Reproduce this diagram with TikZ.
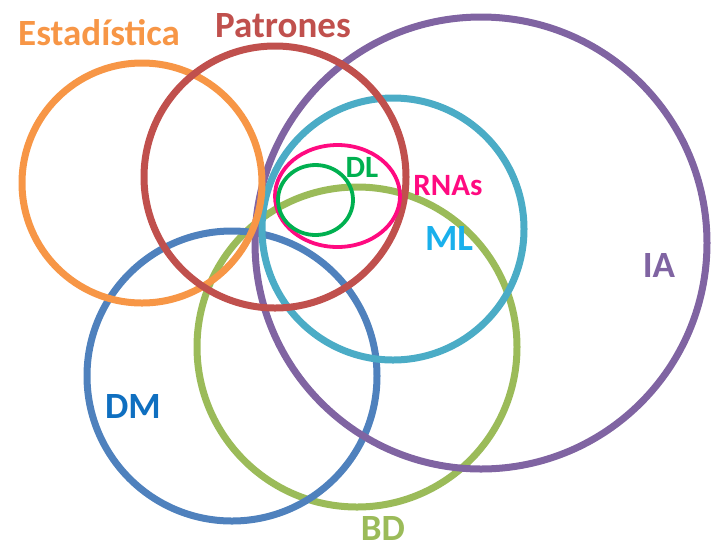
\documentclass[tikz,border=0pt]{standalone}
\usepackage{fontspec}
\setmainfont{Carlito}
\definecolor{cOrange}{HTML}{F79646}
\definecolor{cRed}{HTML}{C0504D}
\definecolor{cPurple}{HTML}{8064A2}
\definecolor{cCyan}{HTML}{4BACC6}
\definecolor{cBlue}{HTML}{4F81BD}
\definecolor{cGreen}{HTML}{9BBB59}
\definecolor{cPink}{HTML}{FF0A80}
\definecolor{cDL}{HTML}{00B050}
\definecolor{cML}{HTML}{1AB0EC}
\definecolor{cDM}{HTML}{0F6FC0}
\tikzset{
  ring/.style={line width=7pt},
  thinring/.style={line width=3.8pt},
  lbl/.style={anchor=base, inner sep=0pt, font=\bfseries\fontsize{37}{37}\selectfont},
  smalllbl/.style={lbl, font=\bfseries\fontsize{31}{31}\selectfont}
}
\begin{document}
\begin{tikzpicture}[x=1pt,y=-1pt]
\useasboundingbox (0,0) rectangle (714,550);
% sets, drawn back to front
\draw[ring, cGreen]  (357,347) circle (160);
\draw[ring, cBlue]   (232,376) circle (145);
\draw[ring, cPurple] (481,243) circle (226);
\draw[ring, cCyan]   (393,229) circle (131);
\draw[ring, cOrange] (142,183) circle (120);
\draw[ring, cRed]    (275,177) circle (131);
\draw[thinring, cPink] (337.5,196) ellipse [x radius=62.5, y radius=51];
\draw[thinring, cDL]   (315.5,200) ellipse [x radius=37.5, y radius=35];
% labels
\node[lbl, cOrange] (est) at (99,45)  {Estadística};
\node[lbl, cRed]    (pat) at (283,37) {Patrones};
\node[lbl, cPurple] (ia)  at (659,277) {IA};
\node[lbl, cML]     (ml)  at (449,250) {ML};
\node[smalllbl, cPink] (rna) at (448,195) {RNAs};
\node[smalllbl, cDL]   (dl)  at (362,177) {DL};
\node[lbl, cDM]     (dm)  at (133,418) {DM};
\node[lbl, cGreen]  (bd)  at (383,540) {BD};
\end{tikzpicture}
\end{document}
